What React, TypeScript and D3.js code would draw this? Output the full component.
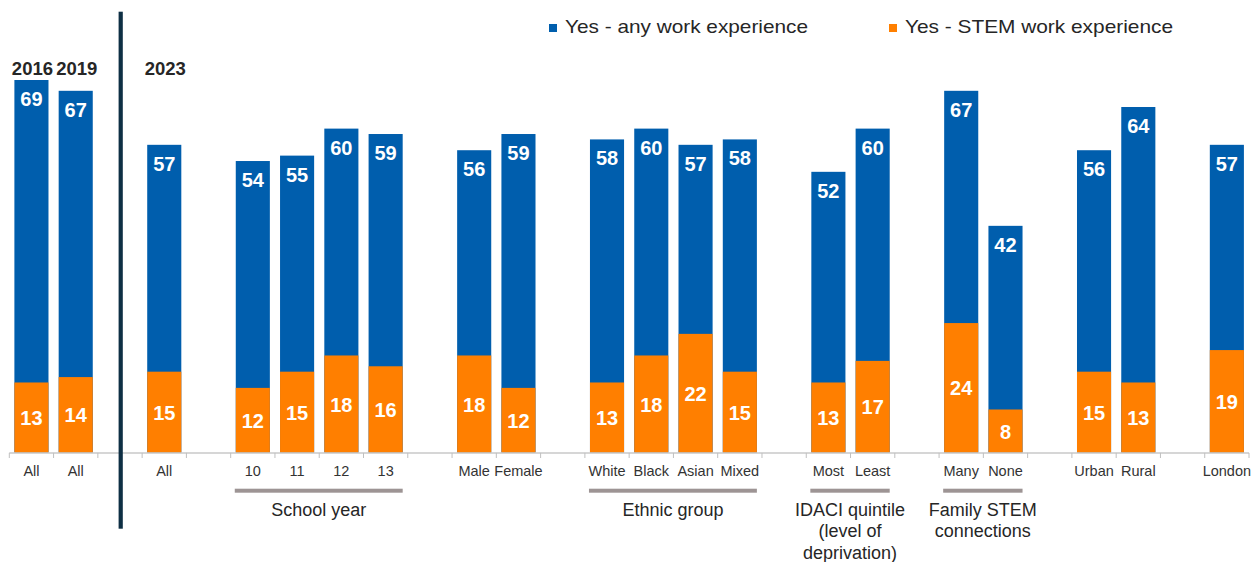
import React from "react";
import * as d3 from "d3";

const slots: string[] = [
  "s0", "s1", "g2", "s3", "g4", "s5", "s6", "s7", "s8", "g9",
  "s10", "s11", "g12", "s13", "s14", "s15", "s16", "g17",
  "s18", "s19", "g20", "s21", "s22", "g23", "s24", "s25", "g26", "s27",
];
const barSlots: string[] = [
  "s0", "s1", "s3", "s5", "s6", "s7", "s8", "s10", "s11",
  "s13", "s14", "s15", "s16", "s18", "s19", "s21", "s22", "s24", "s25", "s27",
];
const tickLabels: string[] = [
  "All", "All", "All", "10", "11", "12", "13", "Male", "Female",
  "White", "Black", "Asian", "Mixed", "Most", "Least", "Many", "None", "Urban", "Rural", "London",
];
const anyWork: number[] = [69, 67, 57, 54, 55, 60, 59, 56, 59, 58, 60, 57, 58, 52, 60, 67, 42, 56, 64, 57];
const stemWork: number[] = [13, 14, 15, 12, 15, 18, 16, 18, 12, 13, 18, 22, 15, 13, 17, 24, 8, 15, 13, 19];

const yearLabels: { slot: string; text: string }[] = [
  { slot: "s0", text: "2016" },
  { slot: "s1", text: "2019" },
  { slot: "s3", text: "2023" },
];
const groups: { from: string; to: string; lines: string[] }[] = [
  { from: "s5", to: "s8", lines: ["School year"] },
  { from: "s13", to: "s16", lines: ["Ethnic group"] },
  { from: "s18", to: "s19", lines: ["IDACI quintile", "(level of", "deprivation)"] },
  { from: "s21", to: "s22", lines: ["Family STEM", "connections"] },
];
const legendItems: string[] = ["Yes - any work experience", "Yes - STEM work experience"];

const BLUE = "#005EAD";
const ORANGE = "#FF7F00";
const FONT = "'Liberation Sans', Arial, sans-serif";

export default function App() {
  const W = 1260;
  const H = 562;
  const x = d3.scaleBand<string>().domain(slots).range([9.3, 1249]).padding(0);
  const y = d3.scaleLinear().domain([0, 69]).range([452.7, 80]);
  const bw = x.bandwidth();
  const barW = bw * 0.77;
  const off = (bw - barW) / 2;
  const base = y(0);

  const boundaries = d3.range(slots.length + 1).map((i) => 9.3 + i * bw);

  return (
    <svg width={W} height={H} style={{ position: "absolute", left: 0, top: 0, background: "#fff" }} fontFamily={FONT}>
      {/* legend */}
      <rect x={549} y={24} width={8} height={8} fill={BLUE} />
      <text x={565} y={33.3} fontSize={18.5} fill="#262626" textLength={243} lengthAdjust="spacingAndGlyphs">
        {legendItems[0]}
      </text>
      <rect x={889} y={24} width={8} height={8} fill={ORANGE} />
      <text x={905} y={33.3} fontSize={18.5} fill="#262626" textLength={268} lengthAdjust="spacingAndGlyphs">
        {legendItems[1]}
      </text>

      {/* bars */}
      {barSlots.map((s, i) => {
        const x0 = (x(s) as number) + off;
        const yTop = y(anyWork[i]);
        const yS = y(stemWork[i]);
        return (
          <g key={s}>
            <rect x={x0} y={yTop} width={barW} height={base - yTop} fill={BLUE} />
            <rect x={x0} y={yS} width={barW} height={base - yS} fill={ORANGE} />
            <text x={x0 + barW / 2} y={yTop + 26} textAnchor="middle" fontSize={20} fontWeight="bold" fill="#fff">
              {anyWork[i]}
            </text>
            <text x={x0 + barW / 2} y={(yS + base) / 2 + 7.5} textAnchor="middle" fontSize={20} fontWeight="bold" fill="#fff">
              {stemWork[i]}
            </text>
            <text x={x0 + barW / 2} y={476} textAnchor="middle" fontSize={14.5} fill="#333">
              {tickLabels[i]}
            </text>
          </g>
        );
      })}

      {/* axis */}
      <line x1={boundaries[0]} x2={boundaries[boundaries.length - 1]} y1={452.9} y2={452.9} stroke="#c8c8c8" strokeWidth={1.5} />
      {boundaries.map((b, i) => (
        <line key={i} x1={b} x2={b} y1={452.9} y2={458} stroke="#c0c0c0" strokeWidth={1} />
      ))}

      {/* year labels */}
      {yearLabels.map((yl) => (
        <text key={yl.text} x={(x(yl.slot) as number) + bw / 2 + 1} y={75} textAnchor="middle" fontSize={18.5} fontWeight="bold" fill="#262626">
          {yl.text}
        </text>
      ))}

      {/* divider */}
      <rect x={118.6} y={11.7} width={4.2} height={517} fill="#0E2F44" />

      {/* groups */}
      {groups.map((g) => {
        const gx0 = (x(g.from) as number) + off - 1;
        const gx1 = (x(g.to) as number) + off + barW;
        const cx = (gx0 + gx1) / 2;
        return (
          <g key={g.lines[0]}>
            <rect x={gx0} y={488.7} width={gx1 - gx0} height={4} fill="#9d9494" />
            {g.lines.map((ln, j) => (
              <text key={ln} x={cx} y={515.5 + j * 21.5} textAnchor="middle" fontSize={18} fill="#262626">
                {ln}
              </text>
            ))}
          </g>
        );
      })}
    </svg>
  );
}
